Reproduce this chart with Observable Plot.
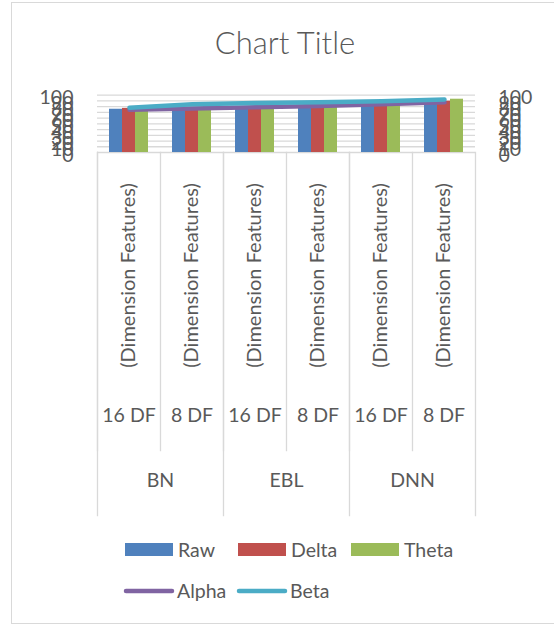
<!DOCTYPE html>
<html>
<head>
<meta charset="utf-8">
<script src="https://cdn.jsdelivr.net/npm/d3@7"></script>
<script src="https://cdn.jsdelivr.net/npm/@observablehq/plot@0.6"></script>
<style>
  html, body { margin: 0; padding: 0; background: #fff; }
  #wrap { position: relative; width: 554px; height: 625px; overflow: hidden; font-family: Lato, sans-serif; color: #595959; }
  #border { position: absolute; left: 10.5px; top: 1.5px; width: 700px; height: 622px; border: 1.5px solid #D9D9D9; box-sizing: border-box; }
  .layer { position: absolute; left: 0; top: 0; }
  svg text { font-weight: 400; }
  svg text.title { font-weight: 300; }
</style>
</head>
<body>
<div id="wrap">
  <div id="border"></div>
  <div id="bars" class="layer"></div>
  <div id="lines" class="layer"></div>
  <div id="deco" class="layer"></div>
</div>
<script>
// ---- data ----
const groups = ["BN", "BN", "EBL", "EBL", "DNN", "DNN"];
const categories = ["16 DF", "8 DF", "16 DF", "8 DF", "16 DF", "8 DF"];
const categoryNote = "(Dimension Features)";
const groupNames = ["BN", "EBL", "DNN"];
const barSeries = ["Raw", "Delta", "Theta"];
const raw   = [75.5, 78.5, 80, 81.5, 82.5, 85.5];
const delta = [77, 78.5, 80, 80, 82, 89.5];
const theta = [72, 78, 79, 80, 83, 93];
const lineSeries = ["Alpha", "Beta"];
const alpha = [74.5, 77, 79, 81, 84, 87.5];
const beta  = [78, 84, 86.5, 87.5, 89.5, 92.5];
const yTicks = [0, 10, 20, 30, 40, 50, 60, 70, 80, 90, 100];
const barColors = ["#4F81BD", "#C0504D", "#9BBB59"];
const lineColors = ["#8064A2", "#4BACC6"];
const chartTitle = "Chart Title";

// ---- tables built from the arrays ----
const keys = categories.map((c, i) => groups[i] + " " + c);
const barValues = [raw, delta, theta];
const barData = [];
keys.forEach((k, i) => barSeries.forEach((s, j) => barData.push({key: k, series: s, value: barValues[j][i]})));
const lineValues = [alpha, beta];
const lineData = [];
lineSeries.forEach((s, j) => keys.forEach((k, i) => lineData.push({key: k, series: s, value: lineValues[j][i]})));
const catRows = keys.map((k, i) => ({key: k, cat: categories[i], group: groups[i]}));
const groupRows = catRows.filter((d, i) => i % 2 === 0);

// ---- layout ----
const W = 554, H = 625;
const L = 95, R = 477, T = 94.7, B = 152, TABLE_BOTTOM = 515, INNER_BOTTOM = 450;
const grey = "#D9D9D9", txt = "#595959";
const font = "Lato, sans-serif";
const FS = 19.5;

const barsPlot = Plot.plot({
  width: W, height: H,
  marginLeft: L, marginRight: W - R, marginTop: T, marginBottom: H - TABLE_BOTTOM,
  style: {fontFamily: font, fontSize: FS + "px", color: txt, background: "none", overflow: "visible"},
  fx: {domain: keys, padding: 0, axis: null},
  x: {domain: barSeries, paddingInner: 0, paddingOuter: 0.77, axis: null},
  y: {domain: [0, 100], range: [B, T], axis: null},
  color: {domain: barSeries, range: barColors},
  marks: [
    Plot.ruleY(yTicks, {stroke: grey, strokeWidth: 1.3}),
    Plot.barY(barData, {fx: "key", x: "series", y: "value", fill: "series", inset: 0}),
    Plot.axisY({anchor: "left", ticks: yTicks, tickSize: 0, tickPadding: 24, fontSize: FS, fill: txt, dy: 3, label: null}),
    Plot.axisY({anchor: "right", ticks: yTicks, tickSize: 0, tickPadding: 23, fontSize: FS, fill: txt, dy: 3, label: null}),
    Plot.frame({anchor: "left", stroke: grey, strokeWidth: 1.3, insetTop: B - T, insetBottom: TABLE_BOTTOM - INNER_BOTTOM}),
    ...groupRows.map(g => Plot.frame({anchor: "left", fx: () => g.key, stroke: grey, strokeWidth: 1.3, insetTop: B - T})),
    Plot.frame({anchor: "right", fx: () => keys[keys.length - 1], stroke: grey, strokeWidth: 1.3, insetTop: B - T}),
    Plot.text(catRows, {fx: "key", text: () => categoryNote, frameAnchor: "top", dx: -8, dy: 275 - T, rotate: -90, fontSize: FS + 0.5, fill: txt}),
    Plot.text(catRows, {fx: "key", text: "cat", frameAnchor: "bottom", dy: 421 - TABLE_BOTTOM, fontSize: FS, fill: txt}),
    Plot.text(groupRows, {fx: "key", text: "group", frameAnchor: "bottom-right", textAnchor: "middle", dy: 486.5 - TABLE_BOTTOM, fontSize: FS, fill: txt})
  ]
});
document.getElementById("bars").appendChild(barsPlot);

const linesPlot = Plot.plot({
  width: W, height: H,
  marginLeft: L, marginRight: W - R, marginTop: T, marginBottom: H - B,
  style: {background: "none", overflow: "visible"},
  x: {type: "point", domain: keys, padding: 0.5, axis: null},
  y: {domain: [0, 100], axis: null},
  color: {domain: lineSeries, range: lineColors},
  marks: [
    Plot.lineY(lineData, {x: "key", y: "value", stroke: "series", strokeWidth: 4.5, strokeLinecap: "round", strokeLinejoin: "round"})
  ]
});
document.getElementById("lines").appendChild(linesPlot);

// ---- title & legend ----
const deco = d3.select("#deco").append("svg").attr("width", W).attr("height", H)
  .style("font-family", font).style("fill", txt);
deco.append("text").attr("class", "title").attr("x", 285).attr("y", 54).attr("text-anchor", "middle")
  .attr("font-size", 31).attr("fill", txt).text(chartTitle);

const barLegX = [125, 238, 351];
barSeries.forEach((s, i) => {
  deco.append("rect").attr("x", barLegX[i]).attr("y", 543).attr("width", 48).attr("height", 13).attr("fill", barColors[i]);
  deco.append("text").attr("x", barLegX[i] + 53).attr("y", 556.5).attr("font-size", FS).attr("fill", txt).text(s);
});
const lineLegX = [124, 237];
lineSeries.forEach((s, i) => {
  deco.append("line").attr("x1", lineLegX[i] + 2).attr("x2", lineLegX[i] + 48).attr("y1", 591).attr("y2", 591)
    .attr("stroke", lineColors[i]).attr("stroke-width", 4.5).attr("stroke-linecap", "round");
  deco.append("text").attr("x", lineLegX[i] + 53).attr("y", 598).attr("font-size", FS).attr("fill", txt).text(s);
});
</script>
</body>
</html>
